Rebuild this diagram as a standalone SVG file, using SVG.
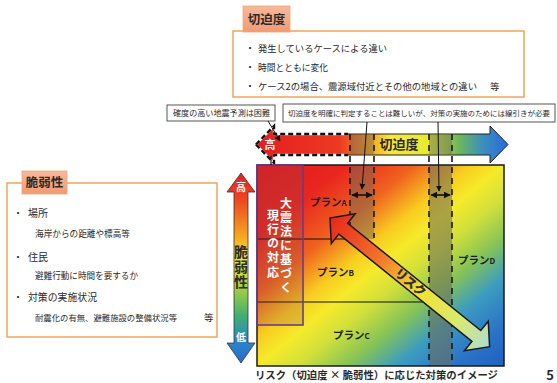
<svg xmlns="http://www.w3.org/2000/svg" width="557" height="383" viewBox="0 0 557 383">
<style>
text{font-family:"Noto Sans CJK JP","Noto Sans",sans-serif;fill:#2a2a2a}
.b{font-weight:bold}
.frame{fill:#fff;stroke:#f0a556;stroke-width:1.5}
.tag{fill:url(#tagG);stroke:#f1a57c;stroke-width:0.8}
.note{fill:#fff;stroke:#555;stroke-width:1}
.dash{stroke:#1a1a1a;stroke-width:1.6;stroke-dasharray:6 5;fill:none}
.ln{stroke:#111;stroke-width:1.2;fill:none}
.ptr{stroke:#111;stroke-width:1;fill:none;marker-end:url(#ah)}
.dbl{stroke:#111;stroke-width:1.6;fill:none;marker-start:url(#ah2);marker-end:url(#ah2)}
.wt{fill:#fff;font-weight:bold}
.vt{writing-mode:vertical-rl}
.plan{font-weight:bold;font-size:10.5px;fill:#1e1e1e}
</style>
<defs>
<linearGradient id="tagG" x1="0" y1="0" x2="0" y2="1"><stop offset="0" stop-color="#f7b899"/><stop offset="1" stop-color="#f29a72"/></linearGradient>
<linearGradient id="matG" x1="0" y1="0" x2="1" y2="1">
<stop offset="0" stop-color="#e3191f"/><stop offset="0.18" stop-color="#e8261e"/><stop offset="0.32" stop-color="#f0621e"/><stop offset="0.43" stop-color="#f8cc20"/><stop offset="0.5" stop-color="#f6ea2a"/><stop offset="0.58" stop-color="#d2e03a"/><stop offset="0.68" stop-color="#86c456"/><stop offset="0.78" stop-color="#3c9cc0"/><stop offset="0.9" stop-color="#2a72c8"/><stop offset="1" stop-color="#2060c0"/>
</linearGradient>
<linearGradient id="hG" gradientUnits="userSpaceOnUse" x1="257" y1="0" x2="508" y2="0">
<stop offset="0" stop-color="#e41e20"/><stop offset="0.33" stop-color="#ec3a20"/><stop offset="0.45" stop-color="#f5a020"/><stop offset="0.53" stop-color="#f8e830"/><stop offset="0.68" stop-color="#e8ea30"/><stop offset="0.8" stop-color="#70b858"/><stop offset="0.9" stop-color="#3a8ec0"/><stop offset="1" stop-color="#2a6ad8"/>
</linearGradient>
<linearGradient id="vG" gradientUnits="userSpaceOnUse" x1="0" y1="173" x2="0" y2="363">
<stop offset="0" stop-color="#e42020"/><stop offset="0.15" stop-color="#ee4a20"/><stop offset="0.35" stop-color="#f5b020"/><stop offset="0.45" stop-color="#f4e830"/><stop offset="0.6" stop-color="#a8d040"/><stop offset="0.75" stop-color="#40b070"/><stop offset="0.88" stop-color="#2a88c8"/><stop offset="1" stop-color="#2a6ad0"/>
</linearGradient>
<linearGradient id="rG" gradientUnits="userSpaceOnUse" x1="0" y1="0" x2="205" y2="0">
<stop offset="0" stop-color="#e8261c"/><stop offset="0.3" stop-color="#f2702a"/><stop offset="0.55" stop-color="#f5e02c"/><stop offset="0.8" stop-color="#d8ea70"/><stop offset="1" stop-color="#b0dcd0"/>
</linearGradient>
<marker id="ah" viewBox="0 0 10 10" refX="9" refY="5" markerWidth="6" markerHeight="6" orient="auto-start-reverse"><path d="M0,0 L10,5 L0,10 z" fill="#111"/></marker>
<marker id="ah2" viewBox="0 0 10 10" refX="9" refY="5" markerUnits="userSpaceOnUse" markerWidth="7" markerHeight="7" orient="auto-start-reverse"><path d="M0,0 L10,5 L0,10 z" fill="#111"/></marker>
</defs>

<!-- 切迫度 box -->
<g id="node-urgency-box">
<rect class="frame" x="233" y="31" width="291" height="66"/>
<rect class="tag" x="243" y="6" width="47" height="26"/>
<text class="b" x="266.5" y="24" font-size="12.5" text-anchor="middle">切迫度</text>
<text x="245" y="52" font-size="10">・</text>
<text x="258" y="52" font-size="9.5" textLength="129" lengthAdjust="spacingAndGlyphs">発生しているケースによる違い</text>
<text x="245" y="71" font-size="10">・</text>
<text x="258" y="71" font-size="9.5" textLength="70" lengthAdjust="spacingAndGlyphs">時間とともに変化</text>
<text x="245" y="90" font-size="10">・</text>
<text x="258" y="90" font-size="9.2" textLength="219" lengthAdjust="spacingAndGlyphs">ケース2の場合、震源域付近とその他の地域との違い</text>
<text x="490" y="90" font-size="9.5">等</text>
</g>

<!-- 脆弱性 box -->
<g id="node-vulnerability-box">
<rect class="frame" x="7" y="183" width="210" height="154"/>
<rect class="tag" x="22" y="171" width="45" height="23"/>
<text class="b" x="44.5" y="187" font-size="12.5" text-anchor="middle">脆弱性</text>
<text x="13" y="217" font-size="10">・</text>
<text x="28" y="217" font-size="10">場所</text>
<text x="35" y="237" font-size="9" textLength="95" lengthAdjust="spacingAndGlyphs">海岸からの距離や標高等</text>
<text x="13" y="261" font-size="10">・</text>
<text x="28" y="261" font-size="10">住民</text>
<text x="35" y="279" font-size="9" textLength="103" lengthAdjust="spacingAndGlyphs">避難行動に時間を要するか</text>
<text x="13" y="301" font-size="10">・</text>
<text x="28" y="301" font-size="10" textLength="69" lengthAdjust="spacingAndGlyphs">対策の実施状況</text>
<text x="35" y="321" font-size="8.5" textLength="142" lengthAdjust="spacingAndGlyphs">耐震化の有無、避難施設の整備状況等</text>
<text x="204" y="321" font-size="9.5">等</text>
</g>

<!-- notes -->
<g id="node-note1">
<rect class="note" x="167" y="105" width="108" height="16"/>
<text x="173" y="116" font-size="8" textLength="97" lengthAdjust="spacingAndGlyphs">確度の高い地震予測は困難</text>
</g>
<g id="node-note2">
<rect class="note" x="283" y="104" width="272" height="18"/>
<text x="288" y="116" font-size="7.4" textLength="262" lengthAdjust="spacingAndGlyphs">切迫度を明確に判定することは難しいが、対策の実施のためには線引きが必要</text>
</g>

<!-- horizontal axis arrow -->
<g id="node-urgency-axis">
<polygon points="256,144.5 274,126 274,134 490,134 490,126 508,144.5 490,163 490,155 274,155 274,163" fill="url(#hG)" stroke="#222" stroke-width="1"/>
<path d="M256,144.5 L274,126 L274,134 L348,134 M256,144.5 L274,163 L274,155 L348,155" fill="none" stroke="#fff" stroke-width="2.4"/>
<path d="M256,144.5 L274,126 L274,134 L348,134 M256,144.5 L274,163 L274,155 L348,155" fill="none" stroke="#111" stroke-width="2.4" stroke-dasharray="5 3"/>
<rect x="350" y="134.5" width="24" height="20" fill="#6e6a58" opacity="0.45"/>
<rect x="429" y="134.5" width="23" height="20" fill="#6e6a58" opacity="0.45"/>
<text class="wt" x="270" y="148.5" font-size="11" text-anchor="middle">高</text>
<text class="b" x="399" y="148.5" font-size="13" text-anchor="middle">切迫度</text>
</g>

<!-- vertical axis arrow -->
<g id="node-vulnerability-axis">
<polygon points="241,173 255,192 248,192 248,343 255,343 241,363 227,343 234,343 234,192 227,192" fill="url(#vG)" stroke="#333" stroke-width="0.8"/>
<text class="wt" x="241" y="191" font-size="10" text-anchor="middle">高</text>
<text class="b vt" x="241" y="245" font-size="14" letter-spacing="1" fill="#222">脆弱性</text>
<text class="wt" x="241" y="341" font-size="10" text-anchor="middle">低</text>
</g>

<!-- matrix -->
<g id="node-matrix">
<rect x="257" y="165" width="247" height="201" fill="url(#matG)"/>
<rect x="350" y="165" width="24" height="74" fill="#6e6a58" opacity="0.45"/>
<rect x="429" y="165" width="23" height="201" fill="#6e6a58" opacity="0.55"/>
<line class="ln" x1="257" y1="239" x2="350" y2="239"/>
<line class="ln" x1="257" y1="302" x2="429" y2="302"/>
<rect x="257" y="165" width="247" height="201" fill="none" stroke="#1a1a1a" stroke-width="1.5"/>
</g>

<g id="node-current-response">
<rect x="257" y="165" width="46" height="160" fill="#8a4a50" fill-opacity="0.22" stroke="#6a3a90" stroke-width="1.6"/>
<text class="wt vt" x="286" y="197" font-size="12" letter-spacing="2">大震法に基づく</text>
<text class="wt vt" x="273" y="209" font-size="12" letter-spacing="2.3">現行の対応</text>
</g>

<g id="node-planA"><text class="plan" x="310" y="206">プラン<tspan font-size="8">A</tspan></text></g>
<g id="node-planB"><text class="plan" x="317" y="276">プラン<tspan font-size="8">B</tspan></text></g>
<g id="node-planC"><text class="plan" x="333" y="339">プラン<tspan font-size="8">C</tspan></text></g>
<g id="node-planD"><text class="plan" x="458" y="264">プラン<tspan font-size="8">D</tspan></text></g>

<!-- connectors -->
<g id="connectors">
<line class="dash" x1="350" y1="134" x2="350" y2="238"/>
<line class="dash" x1="374" y1="134" x2="374" y2="238"/>
<line class="dash" x1="429" y1="134" x2="429" y2="366"/>
<line class="dash" x1="452" y1="134" x2="452" y2="366"/>
<line class="dbl" x1="352" y1="195" x2="372" y2="195"/>
<line class="dbl" x1="431" y1="195" x2="450" y2="195"/>
<line class="ptr" x1="268" y1="121" x2="280" y2="141"/>
<line class="ln" x1="271" y1="156" x2="271" y2="165" stroke-width="1"/>
<line class="ptr" x1="367" y1="122" x2="362" y2="189"/>
<line class="ptr" x1="438" y1="122" x2="439" y2="191"/>
</g>

<!-- risk arrow -->
<g id="node-risk" transform="translate(330,218) rotate(38.88)">
<polygon points="0,0 17,-19 17,-7 188,-7 188,-19 205,0 188,19 188,7 17,7 17,19" fill="url(#rG)" stroke="#1a1a1a" stroke-width="1.5" stroke-linejoin="miter"/>
<text x="103" y="4" font-size="12" font-weight="bold" text-anchor="middle" fill="#fff" stroke="#333" stroke-width="0.5">リスク</text>
</g>

<g id="caption">
<text class="b" x="255" y="379" font-size="10.5" textLength="243" lengthAdjust="spacingAndGlyphs">リスク（切迫度 × 脆弱性）に応じた対策のイメージ</text>
<text class="b" x="550" y="380" font-size="13" text-anchor="middle">5</text>
</g>
</svg>
